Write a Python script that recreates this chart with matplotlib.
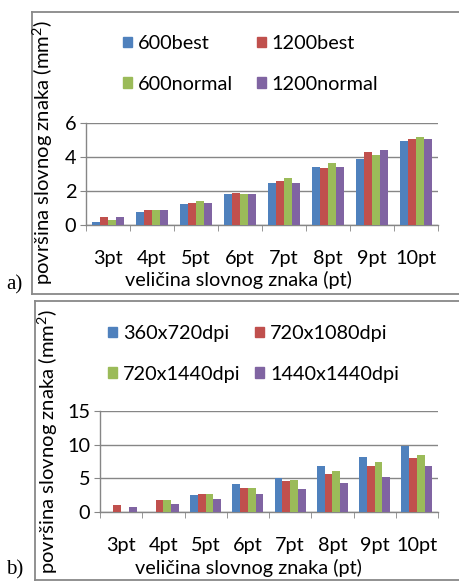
import matplotlib
matplotlib.use("Agg")
import matplotlib.pyplot as plt
from matplotlib.lines import Line2D
from matplotlib.patches import Patch
import numpy as np

plt.rcParams["font.family"] = ["Lato", "DejaVu Sans"]
plt.rcParams["mathtext.fontset"] = "custom"
plt.rcParams["mathtext.rm"] = "Lato"
plt.rcParams["mathtext.it"] = "Lato"

categories = ["3pt", "4pt", "5pt", "6pt", "7pt", "8pt", "9pt", "10pt"]
colors = ["#4F81BD", "#C0504D", "#9BBB59", "#8064A2"]

# a) laser printer settings
labels_a = ["600best", "1200best", "600normal", "1200normal"]
best600 = [0.15, 0.76, 1.24, 1.84, 2.45, 3.40, 3.88, 4.97]
best1200 = [0.46, 0.88, 1.30, 1.90, 2.58, 3.34, 4.31, 5.07]
normal600 = [0.27, 0.88, 1.43, 1.84, 2.74, 3.64, 4.12, 5.20]
normal1200 = [0.46, 0.88, 1.30, 1.84, 2.50, 3.40, 4.43, 5.03]

# b) inkjet resolutions
labels_b = ["360x720dpi", "720x1080dpi", "720x1440dpi", "1440x1440dpi"]
dpi360x720 = [0.0, 0.0, 2.48, 4.17, 5.07, 6.76, 8.15, 9.79]
dpi720x1080 = [1.09, 1.74, 2.63, 3.53, 4.57, 5.71, 6.90, 7.95]
dpi720x1440 = [0.0, 1.74, 2.63, 3.53, 4.72, 6.06, 7.40, 8.45]
dpi1440x1440 = [0.80, 1.24, 1.89, 2.63, 3.43, 4.32, 5.27, 6.76]

W, H = 459, 581
FS = 14.3
GRID = "#868686"


def px(x0, y0, x1, y1):
    # pixel box (top-left origin) -> figure fraction [l, b, w, h]
    return [x0 / W, 1 - y1 / H, (x1 - x0) / W, (y1 - y0) / H]


def draw_panel(ax, series, ymax, ystep):
    x = np.arange(len(categories))
    bw = 0.183
    for i, vals in enumerate(series):
        ax.bar(x + (i - 1.5) * bw, vals, width=bw, color=colors[i], zorder=3)
    ax.set_xlim(-0.5, len(categories) - 0.5)
    ax.set_ylim(0, ymax)
    ax.set_yticks(np.arange(0, ymax + 0.1, ystep))
    ax.yaxis.grid(True, color=GRID, linewidth=1.0, zorder=0)
    for s in ["top", "right"]:
        ax.spines[s].set_visible(False)
    for s in ["left", "bottom"]:
        ax.spines[s].set_color(GRID)
        ax.spines[s].set_linewidth(1.0)
    ax.set_xticks(x)
    ax.set_xticklabels(categories)
    ax.set_xticks(np.arange(-0.5, len(categories)), minor=True)
    ax.tick_params(axis="x", which="major", length=0, pad=18, labelsize=FS)
    ax.tick_params(axis="x", which="minor", length=4, color=GRID, direction="out")
    ax.tick_params(axis="y", length=4, color=GRID, pad=3, labelsize=FS)


def frame(x0, y0, x1, y1):
    kw = dict(color="#888888", linewidth=1.3, transform=fig.transFigure)
    fx = lambda v: v / W
    fy = lambda v: 1 - v / H
    fig.add_artist(Line2D([fx(x0), fx(x1)], [fy(y0), fy(y0)], **kw))
    fig.add_artist(Line2D([fx(x0), fx(x0)], [fy(y0), fy(y1)], **kw))
    fig.add_artist(Line2D([fx(x0), fx(x1)], [fy(y1), fy(y1)], **kw))


def legend(labels, x, y, colspace):
    handles = [Patch(color=c, label=l) for c, l in zip(colors, labels)]
    # legend fills column by column; reorder so rows read left to right
    order = [0, 2, 1, 3]
    handles = [handles[i] for i in order]
    fig.legend(handles=handles, loc="upper left", bbox_to_anchor=(x / W, 1 - y / H),
               ncol=2, frameon=False, fontsize=FS, borderpad=0, borderaxespad=0,
               handlelength=0.45, handleheight=0.45, handletextpad=0.3,
               labelspacing=1.2, columnspacing=colspace)


fig = plt.figure(figsize=(W / 100, H / 100), dpi=100)

frame(32, 12, 462, 294)
frame(35, 301, 462, 580)

ax1 = fig.add_axes(px(86, 123, 438, 225))
draw_panel(ax1, [best600, best1200, normal600, normal1200], 6, 2)
ax2 = fig.add_axes(px(100, 411, 438, 512))
draw_panel(ax2, [dpi360x720, dpi720x1080, dpi720x1440, dpi1440x1440], 15, 5)

legend(labels_a, 123, 35, 1.2)
legend(labels_b, 108, 325, 0.75)

ylab = "površina slovnog znaka (mm$^2$)"
fig.text(43 / W, 1 - 153 / H, ylab, rotation=90, ha="center", va="center", fontsize=14.6)
fig.text(48 / W, 1 - 442 / H, ylab, rotation=90, ha="center", va="center", fontsize=14.6)

xlab = "veličina slovnog znaka (pt)"
fig.text(238 / W, 1 - 280 / H, xlab, ha="center", va="center", fontsize=FS)
fig.text(248 / W, 1 - 568 / H, xlab, ha="center", va="center", fontsize=FS)

fig.text(6 / W, 1 - 285 / H, "a)", family="Liberation Serif", fontsize=15, va="center")
fig.text(6 / W, 1 - 570 / H, "b)", family="Liberation Serif", fontsize=15, va="center")

fig.savefig("out.png", dpi=100)
